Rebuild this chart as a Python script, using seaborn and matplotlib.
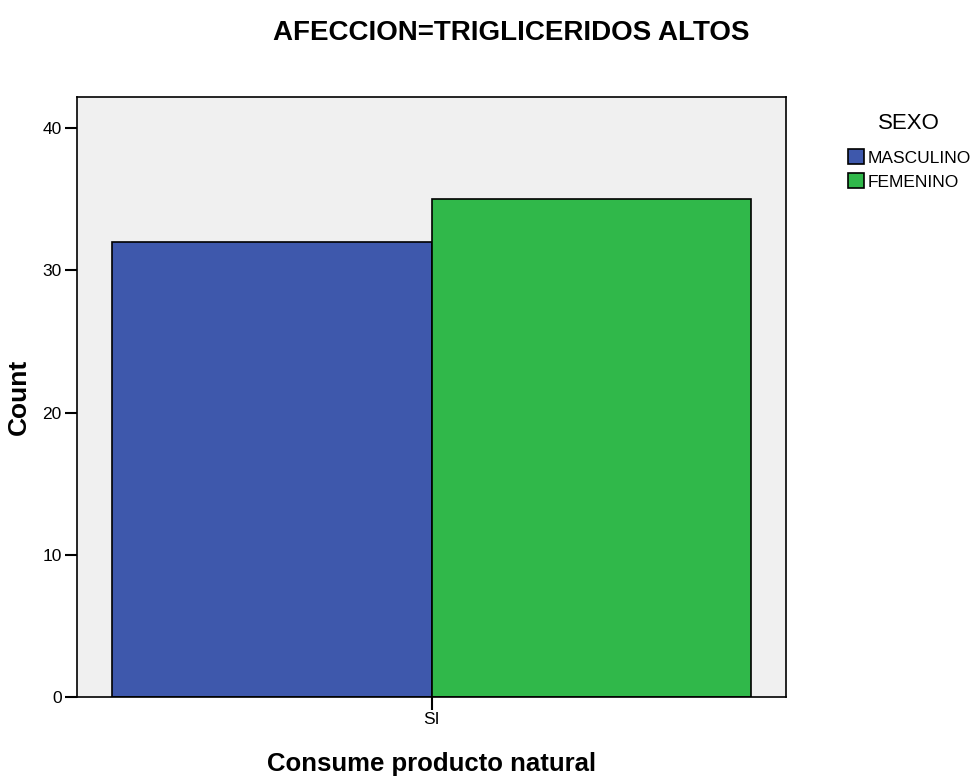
import matplotlib
matplotlib.use("Agg")
import matplotlib.pyplot as plt
import seaborn as sns
import pandas as pd
from matplotlib.patches import Patch

categories = ["SI"]
sexo = ["MASCULINO", "FEMENINO"]
counts = [32, 35]
colors = ["#3e58ac", "#30b84a"]

df = pd.DataFrame({"Consume producto natural": ["SI", "SI"], "SEXO": sexo, "Count": counts})

sns.set_style("ticks")
plt.rcParams['font.family'] = ['Liberation Sans', 'DejaVu Sans']
plt.rcParams['text.color'] = 'black'
plt.rcParams['axes.labelcolor'] = 'black'
plt.rcParams['xtick.color'] = 'black'
plt.rcParams['ytick.color'] = 'black'

fig = plt.figure(figsize=(9.79, 7.78), dpi=100)
ax = fig.add_axes([0.0787, 0.1041, 0.7242, 0.7712])
sns.barplot(data=df, x="Consume producto natural", y="Count", hue="SEXO",
            order=categories, hue_order=sexo, palette=colors, width=0.9,
            saturation=1, edgecolor="black", linewidth=1.2, ax=ax, legend=False)
ax.set_facecolor("#f0f0f0")
ax.set_xlim(-0.5, 0.5)
ax.set_ylim(0, 42.18)
ax.set_yticks([0, 10, 20, 30, 40])
for s in ax.spines.values():
    s.set_linewidth(1.2)
    s.set_color("black")
ax.tick_params(axis="both", length=9, width=1.5, labelsize=12.5, color="black",
               labelcolor="black", pad=2)
ax.set_xlabel("Consume producto natural", fontsize=18.5, fontweight="bold", labelpad=18)
ax.set_ylabel("Count", fontsize=19, fontweight="bold", labelpad=8)
fig.text(0.522, 0.958, "AFECCION=TRIGLICERIDOS ALTOS", ha="center", va="center",
         fontsize=20, fontweight="bold")

handles = [Patch(facecolor=c, edgecolor="black", linewidth=1.2) for c in colors]
leg = fig.legend(handles, sexo, title="SEXO", loc="upper left",
                 bbox_to_anchor=(0.850, 0.875), frameon=False, fontsize=12.5,
                 title_fontsize=16, handlelength=0.95, handleheight=0.95,
                 handletextpad=0.2, labelspacing=0.45)
leg._legend_box.sep = 11
fig.savefig("out.png", dpi=100)
